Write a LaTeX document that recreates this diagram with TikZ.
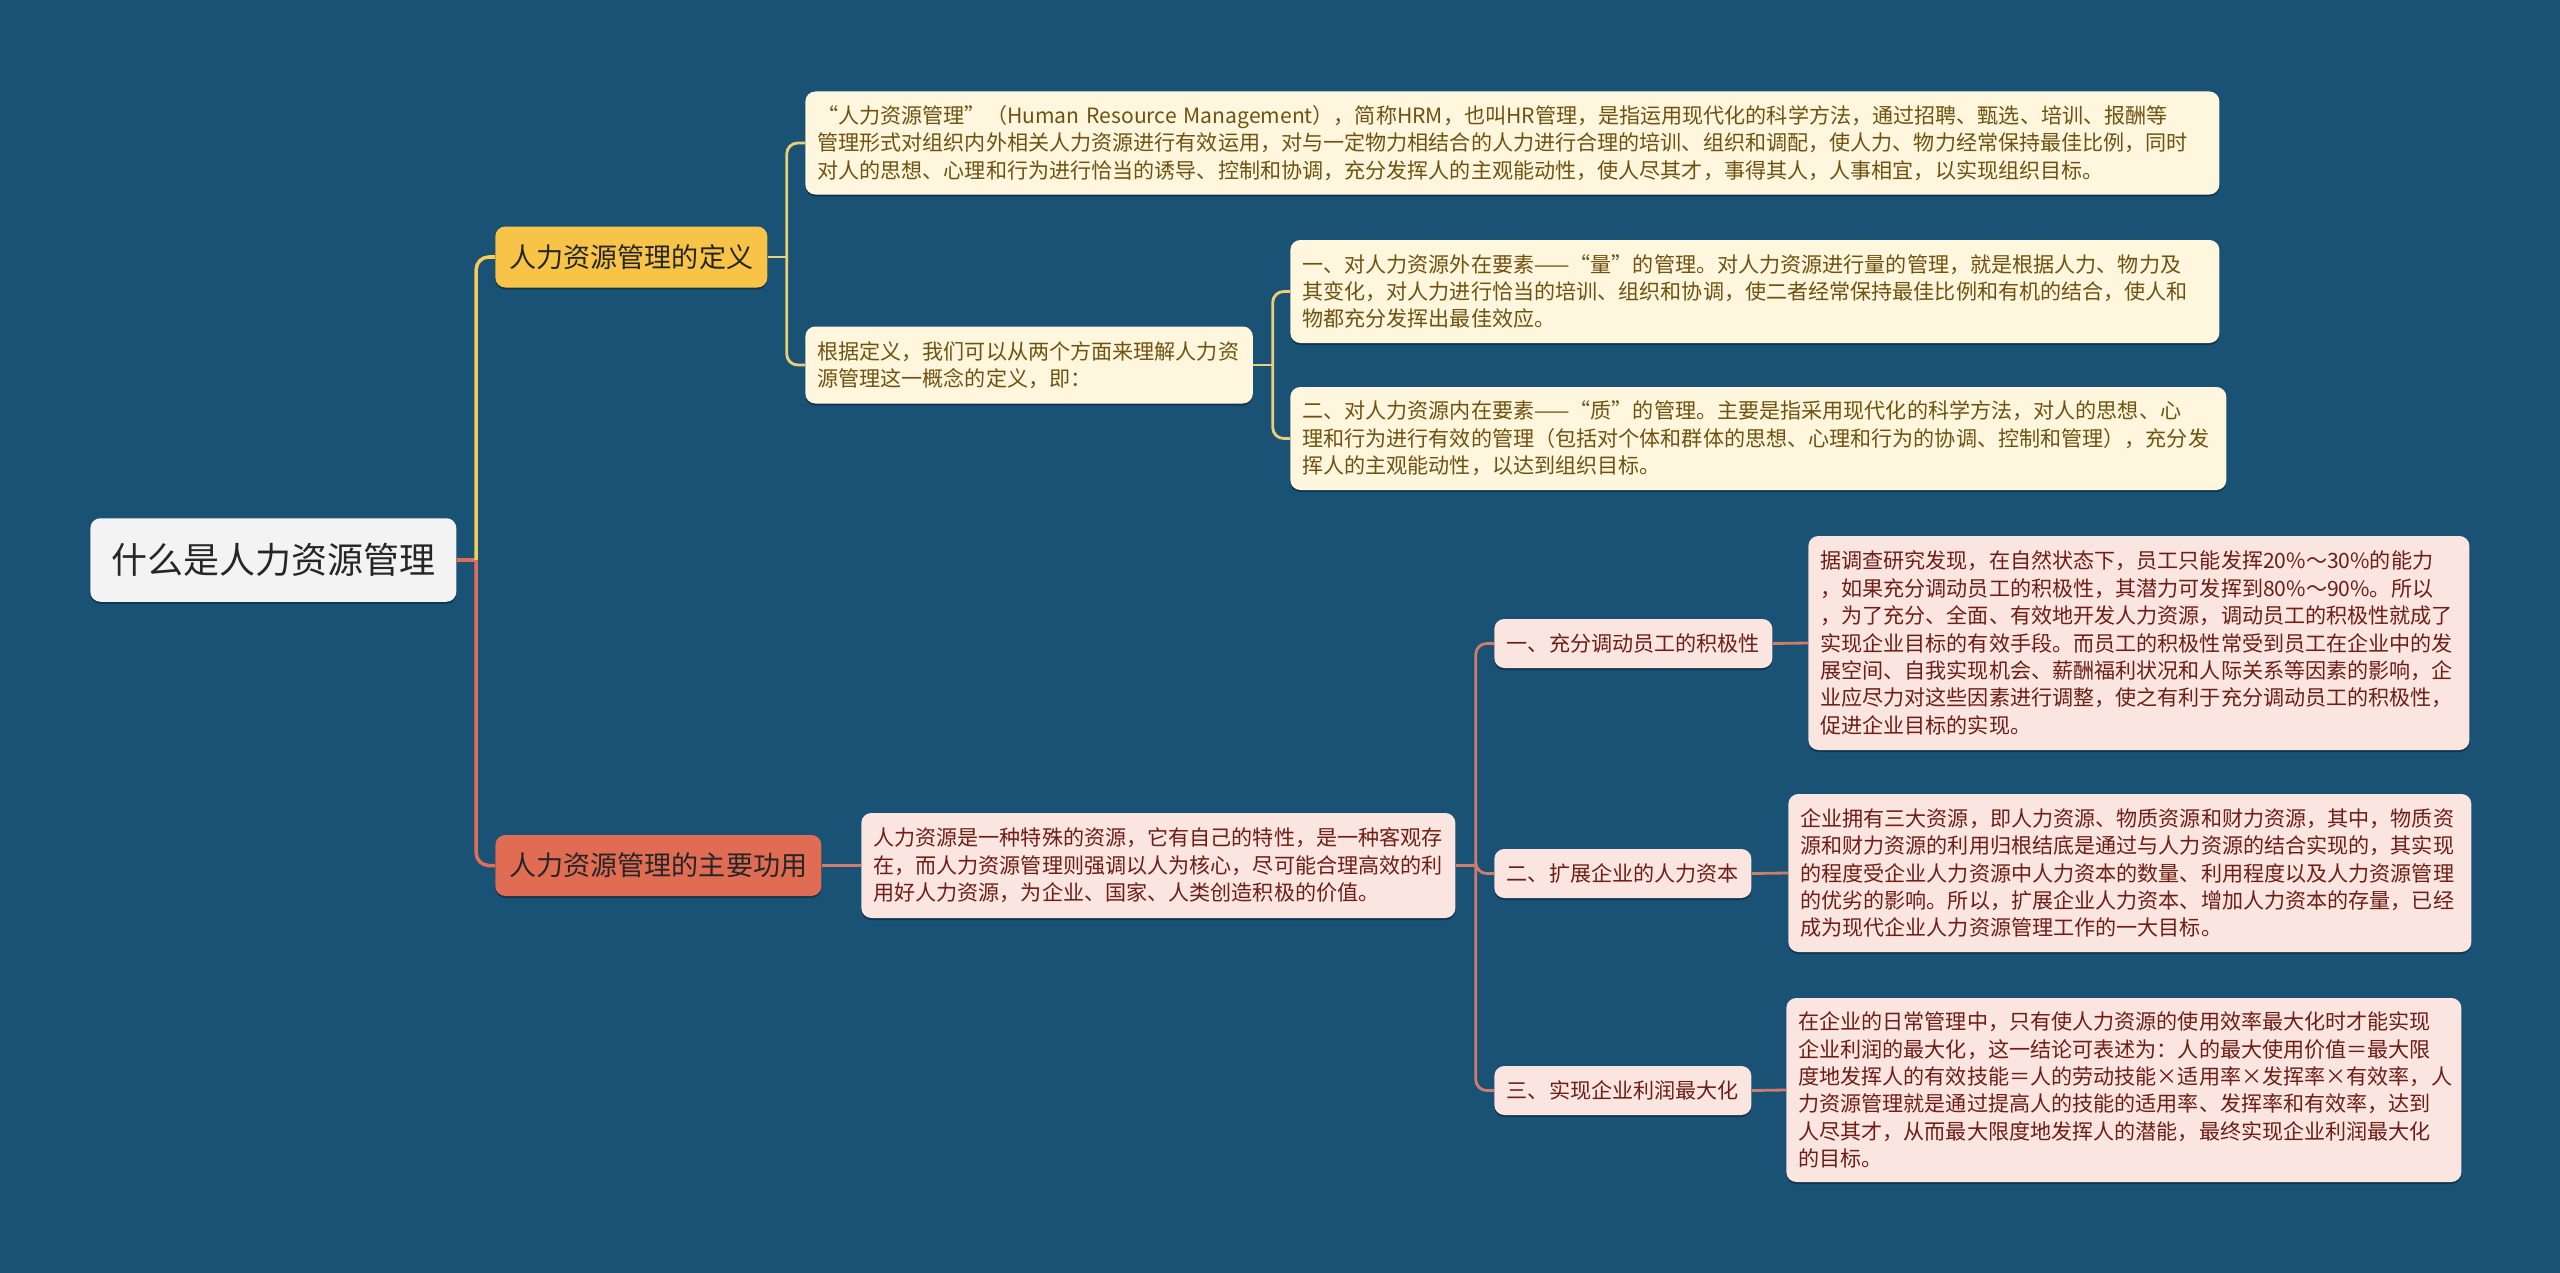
\documentclass[tikz,border=0pt]{standalone}
\usepackage{fontspec}
\setmainfont{Noto Sans CJK SC}
\usetikzlibrary{calc,shadows}
\definecolor{bgnavy}{RGB}{26,82,118}
\definecolor{rootgray}{RGB}{243,243,243}
\definecolor{inkdark}{RGB}{38,38,38}
\definecolor{defyellow}{RGB}{247,196,72}
\definecolor{defcream}{RGB}{255,246,222}
\definecolor{defbrown}{RGB}{112,82,16}
\definecolor{funcred}{RGB}{224,108,84}
\definecolor{funcpink}{RGB}{250,229,224}
\definecolor{funcbrown}{RGB}{110,30,20}
\definecolor{ylwmain}{RGB}{244,204,88}
\definecolor{ylwsub}{RGB}{234,206,118}
\definecolor{redmain}{RGB}{222,110,88}
\definecolor{redsub}{RGB}{206,124,108}

\tikzset{
  box/.style={rounded corners=0.2cm, anchor=west, inner xsep=0.24cm, inner ysep=0.1cm,
    drop shadow={shadow xshift=0pt, shadow yshift=-0.04cm, opacity=0.35, fill=black}},
  rootbox/.style={box, fill=rootgray, text=inkdark,
    font=\fontsize{20.5pt}{24pt}\selectfont, minimum height=1.67cm},
  topicbox/.style={box, text=inkdark, font=\fontsize{15.4pt}{18pt}\selectfont,
    minimum height=1.22cm},
  defnote/.style={box, fill=defcream, text=defbrown,
    font=\fontsize{12pt}{15.6pt}\selectfont, align=left},
  funcnote/.style={box, fill=funcpink, text=funcbrown,
    font=\fontsize{12pt}{15.6pt}\selectfont, align=left},
  ylwlink/.style={ylwsub, line width=1.6pt, rounded corners=0.22cm},
  redlink/.style={redsub, line width=1.6pt, rounded corners=0.22cm},
}

\begin{document}
\begin{tikzpicture}

%% ── BACKGROUND ───────────────────────────────────────────────────────────
\fill[bgnavy] (0,0) rectangle (51.2,-25.46);
\useasboundingbox (0,0) rectangle (51.2,-25.46);

%% ── ROOT AND MAIN TOPICS ─────────────────────────────────────────────────
\node[rootbox, minimum width=7.32cm] (root) at (1.80,-11.20) {什么是人力资源管理};

\node[topicbox, fill=defyellow, minimum width=5.44cm] (def) at (9.90,-5.14)
  {人力资源管理的定义};
\node[topicbox, fill=funcred, minimum width=6.52cm] (func) at (9.90,-17.31)
  {人力资源管理的主要功用};

% Trunk from the root, split into the two branches
\coordinate (rootjoin) at ($(root.east)+(0.39,0)$);
\draw[redmain, line width=2pt] (root.east) -- (rootjoin);
\draw[ylwmain, line width=2pt, rounded corners=0.25cm] (rootjoin) |- (def.west);
\draw[redmain, line width=2pt, rounded corners=0.25cm] (rootjoin) |- (func.west);

%% ── DEFINITION BRANCH ────────────────────────────────────────────────────
\node[defnote, text width=27.80cm, minimum height=2.06cm] (d1) at (16.10,-2.86)
  {“人力资源管理”（Human Resource Management），简称HRM，也叫HR管理，是指运用现代化的科学方法，通过招聘、甄选、培训、报酬等\\
   管理形式对组织内外相关人力资源进行有效运用，对与一定物力相结合的人力进行合理的培训、组织和调配，使人力、物力经常保持最佳比例，同时\\
   对人的思想、心理和行为进行恰当的诱导、控制和协调，充分发挥人的主观能动性，使人尽其才，事得其人，人事相宜，以实现组织目标。};

\node[defnote, text width=8.47cm, minimum height=1.54cm] (d2) at (16.10,-7.30)
  {根据定义，我们可以从两个方面来理解人力资\\
   源管理这一概念的定义，即：};

\coordinate (defjoin) at ($(def.east)+(0.38,0)$);
\draw[ylwlink] (def.east) -- (defjoin);
\draw[ylwlink] (defjoin) |- (d1.west);
\draw[ylwlink] (defjoin) |- (d2.west);

% Two aspects of the definition
\node[defnote, text width=18.10cm, minimum height=2.06cm] (d21) at (25.80,-5.83)
  {一、对人力资源外在要素——“量”的管理。对人力资源进行量的管理，就是根据人力、物力及\\
   其变化，对人力进行恰当的培训、组织和协调，使二者经常保持最佳比例和有机的结合，使人和\\
   物都充分发挥出最佳效应。};
\node[defnote, text width=18.24cm, minimum height=2.06cm] (d22) at (25.80,-8.77)
  {二、对人力资源内在要素——“质”的管理。主要是指采用现代化的科学方法，对人的思想、心\\
   理和行为进行有效的管理（包括对个体和群体的思想、心理和行为的协调、控制和管理），充分发\\
   挥人的主观能动性，以达到组织目标。};

\coordinate (d2join) at ($(d2.east)+(0.39,0)$);
\draw[ylwlink] (d2.east) -- (d2join);
\draw[ylwlink] (d2join) |- (d21.west);
\draw[ylwlink] (d2join) |- (d22.west);

%% ── FUNCTION BRANCH ──────────────────────────────────────────────────────
\node[funcnote, text width=11.40cm, minimum height=2.10cm] (f0) at (17.22,-17.31)
  {人力资源是一种特殊的资源，它有自己的特性，是一种客观存\\
   在，而人力资源管理则强调以人为核心，尽可能合理高效的利\\
   用好人力资源，为企业、国家、人类创造积极的价值。};
\draw[redlink] (func.east) -- (f0.west);

% Three functions
\node[funcnote, minimum width=5.56cm, minimum height=0.98cm] (f1) at (29.88,-12.87)
  {一、充分调动员工的积极性};
\node[funcnote, minimum width=5.14cm, minimum height=0.98cm] (f2) at (29.88,-17.47)
  {二、扩展企业的人力资本};
\node[funcnote, minimum width=5.14cm, minimum height=0.98cm] (f3) at (29.88,-21.81)
  {三、实现企业利润最大化};

\coordinate (f0join) at ($(f0.east)+(0.40,0)$);
\draw[redlink] (f0.east) -- (f0join);
\foreach \fn in {f1,f2,f3}{
  \draw[redlink] (f0join) |- (\fn.west);
}

% Details for each function
\node[funcnote, text width=12.74cm, minimum height=4.28cm] (f1d) at (36.16,-12.86)
  {据调查研究发现，在自然状态下，员工只能发挥20\%～30\%的能力\\
   ，如果充分调动员工的积极性，其潜力可发挥到80\%～90\%。所以\\
   ，为了充分、全面、有效地开发人力资源，调动员工的积极性就成了\\
   实现企业目标的有效手段。而员工的积极性常受到员工在企业中的发\\
   展空间、自我实现机会、薪酬福利状况和人际关系等因素的影响，企\\
   业应尽力对这些因素进行调整，使之有利于充分调动员工的积极性，\\
   促进企业目标的实现。};
\node[funcnote, text width=13.18cm, minimum height=3.16cm] (f2d) at (35.76,-17.46)
  {企业拥有三大资源，即人力资源、物质资源和财力资源，其中，物质资\\
   源和财力资源的利用归根结底是通过与人力资源的结合实现的，其实现\\
   的程度受企业人力资源中人力资本的数量、利用程度以及人力资源管理\\
   的优劣的影响。所以，扩展企业人力资本、增加人力资本的存量，已经\\
   成为现代企业人力资源管理工作的一大目标。};
\node[funcnote, text width=13.02cm, minimum height=3.68cm] (f3d) at (35.72,-21.80)
  {在企业的日常管理中，只有使人力资源的使用效率最大化时才能实现\\
   企业利润的最大化，这一结论可表述为：人的最大使用价值＝最大限\\
   度地发挥人的有效技能＝人的劳动技能×适用率×发挥率×有效率，人\\
   力资源管理就是通过提高人的技能的适用率、发挥率和有效率，达到\\
   人尽其才，从而最大限度地发挥人的潜能，最终实现企业利润最大化\\
   的目标。};

\draw[redlink] (f1.east) -- (f1d.west);
\draw[redlink] (f2.east) -- (f2d.west);
\draw[redlink] (f3.east) -- (f3d.west);

\end{tikzpicture}
\end{document}
